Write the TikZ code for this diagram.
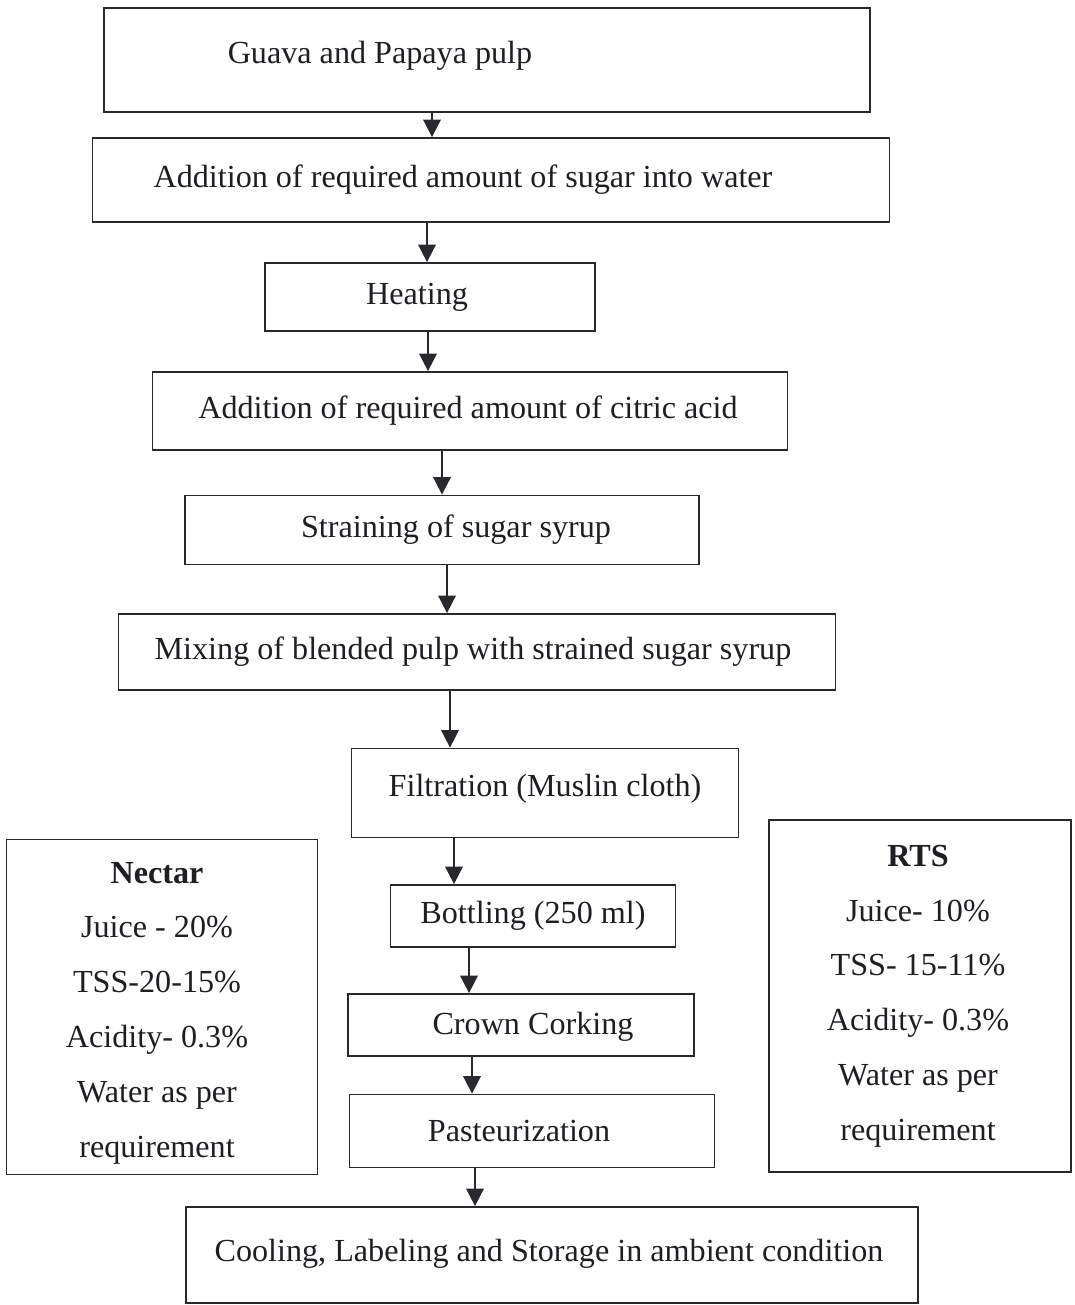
\documentclass[tikz,border=0pt]{standalone}
\usepackage{fontspec}
\setmainfont{Liberation Serif}
\usetikzlibrary{arrows.meta}
\definecolor{flowline}{RGB}{40,40,45}
\definecolor{flowtext}{RGB}{30,30,35}

\begin{document}
\begin{tikzpicture}[x=0.02cm, y=-0.02cm,
    every node/.style={font=\fontsize{18.3}{21}\selectfont, text=flowtext},
    stepbox/.style={draw=flowline, line width=1pt, inner sep=0pt},
    infobox/.style={draw=flowline, line width=1pt, inner sep=0pt},
    infotext/.style={align=center, font=\fontsize{18.3}{31.2}\selectfont},
    arr/.style={-{Triangle[width=10pt,length=10pt]}, line width=1pt, flowline}]
        \useasboundingbox (0,0) rectangle (1075,1305);
        % process steps
        \node[stepbox, minimum width=766*0.02cm, minimum height=104*0.02cm,
          label={[xshift=-107*0.02cm, yshift=4*0.02cm]center:Guava and Papaya pulp}] (pulp) at (487,60) {};
        \node[stepbox, minimum width=797*0.02cm, minimum height=84*0.02cm,
          label={[xshift=-28*0.02cm]center:Addition of required amount of sugar into water}] (sugar) at (491,180) {};
        \node[stepbox, minimum width=330*0.02cm, minimum height=68*0.02cm,
          label={[xshift=-13*0.02cm]center:Heating}] (heat) at (430,297) {};
        \node[stepbox, minimum width=635*0.02cm, minimum height=78*0.02cm,
          label={[xshift=-2*0.02cm]center:Addition of required amount of citric acid}] (citric) at (470,411) {};
        \node[stepbox, minimum width=514*0.02cm, minimum height=69*0.02cm,
          label={[xshift=14*0.02cm]center:Straining of sugar syrup}] (strain) at (442,530) {};
        \node[stepbox, minimum width=717*0.02cm, minimum height=76*0.02cm,
          label={[xshift=-4*0.02cm]center:Mixing of blended pulp with strained sugar syrup}] (mix) at (477,652) {};
        \node[stepbox, minimum width=387*0.02cm, minimum height=89*0.02cm,
          label={[yshift=4*0.02cm]center:Filtration (Muslin cloth)}] (filter) at (545,793) {};
        \node[stepbox, minimum width=285*0.02cm, minimum height=62*0.02cm,
          label=center:Bottling (250 ml)] (bottle) at (533,916) {};
        \node[stepbox, minimum width=346*0.02cm, minimum height=62*0.02cm,
          label={[xshift=12*0.02cm, yshift=-2*0.02cm]center:Crown Corking}] (cork) at (521,1025) {};
        \node[stepbox, minimum width=365*0.02cm, minimum height=73*0.02cm,
          label={[xshift=-13*0.02cm]center:Pasteurization}] (pasteur) at (532,1131) {};
        \node[stepbox, minimum width=732*0.02cm, minimum height=96*0.02cm,
          label={[xshift=-3*0.02cm, yshift=1*0.02cm]center:Cooling, Labeling and Storage in ambient condition}] (cool) at (552,1255) {};
        % side boxes
        \node[infobox, minimum width=311*0.02cm, minimum height=335*0.02cm,
          label={[infotext, xshift=-5*0.02cm, yshift=-6*0.02cm]center:\textbf{Nectar}\\Juice - 20\%\\TSS-20-15\%\\Acidity- 0.3\%\\Water as per\\requirement}] (nectar) at (162,1007) {};
        \node[infobox, minimum width=302*0.02cm, minimum height=352*0.02cm,
          label={[infotext, xshift=-2*0.02cm]center:\textbf{RTS}\\Juice- 10\%\\TSS- 15-11\%\\Acidity- 0.3\%\\Water as per\\requirement}] (rts) at (920,996) {};
        % arrow columns
        \coordinate (c1) at (432,0);
        \coordinate (c2) at (427,0);
        \coordinate (c3) at (428,0);
        \coordinate (c4) at (442,0);
        \coordinate (c5) at (447,0);
        \coordinate (c6) at (450,0);
        \coordinate (c7) at (454,0);
        \coordinate (c8) at (469,0);
        \coordinate (c9) at (472,0);
        \coordinate (c10) at (475,0);
        \draw[arr] (pulp.south -| c1) -- (sugar.north -| c1);
        \draw[arr] (sugar.south -| c2) -- (heat.north -| c2);
        \draw[arr] (heat.south -| c3) -- (citric.north -| c3);
        \draw[arr] (citric.south -| c4) -- (strain.north -| c4);
        \draw[arr] (strain.south -| c5) -- (mix.north -| c5);
        \draw[arr] (mix.south -| c6) -- (filter.north -| c6);
        \draw[arr] (filter.south -| c7) -- (bottle.north -| c7);
        \draw[arr] (bottle.south -| c8) -- (cork.north -| c8);
        \draw[arr] (cork.south -| c9) -- (pasteur.north -| c9);
        \draw[arr] (pasteur.south -| c10) -- (cool.north -| c10);
      \end{tikzpicture}
\end{document}
